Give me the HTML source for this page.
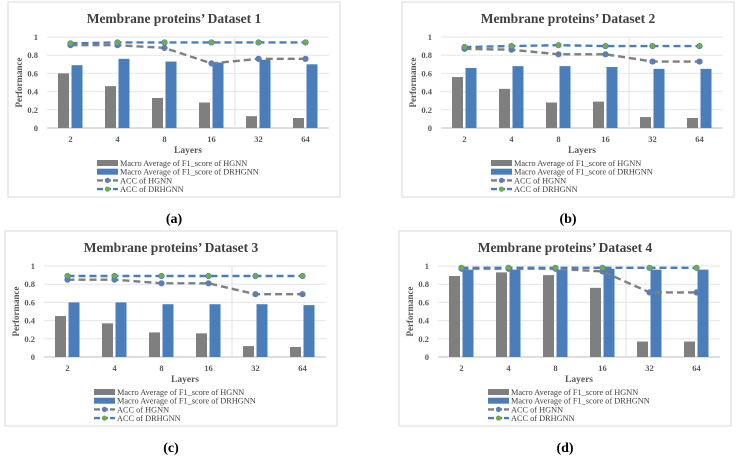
<!DOCTYPE html>
<html><head><meta charset="utf-8"><style>
body{margin:0;background:#fff;width:741px;height:460px;overflow:hidden}
svg{display:block;font-family:"Liberation Serif",serif}
</style></head><body>
<svg id="s" width="741" height="460"></svg>
<script>
const categories=["2","4","8","16","32","64"];
const yTicks=["0","0.2","0.4","0.6","0.8","1"];
const titles=["Membrane proteins’ Dataset 1","Membrane proteins’ Dataset 2","Membrane proteins’ Dataset 3","Membrane proteins’ Dataset 4"];
const captions=["(a)","(b)","(c)","(d)"];
const f1HGNN_a=[0.60,0.46,0.33,0.28,0.13,0.11];
const f1DR_a=[0.69,0.76,0.73,0.72,0.75,0.70];
const accHGNN_a=[0.91,0.91,0.88,0.71,0.76,0.76];
const accDR_a=[0.93,0.94,0.94,0.94,0.94,0.94];
const f1HGNN_b=[0.56,0.43,0.28,0.29,0.12,0.11];
const f1DR_b=[0.66,0.68,0.68,0.67,0.65,0.65];
const accHGNN_b=[0.87,0.86,0.81,0.81,0.73,0.73];
const accDR_b=[0.89,0.90,0.91,0.90,0.90,0.90];
const f1HGNN_c=[0.45,0.37,0.27,0.26,0.12,0.11];
const f1DR_c=[0.60,0.60,0.58,0.58,0.58,0.57];
const accHGNN_c=[0.85,0.85,0.81,0.81,0.69,0.69];
const accDR_c=[0.89,0.89,0.89,0.89,0.89,0.89];
const f1HGNN_d=[0.89,0.93,0.90,0.76,0.17,0.17];
const f1DR_d=[0.96,0.96,0.96,0.97,0.96,0.96];
const accHGNN_d=[0.97,0.97,0.97,0.94,0.71,0.71];
const accDR_d=[0.98,0.98,0.98,0.98,0.98,0.98];
const panels=[[8,2,f1HGNN_a,f1DR_a,accHGNN_a,accDR_a],[402,2,f1HGNN_b,f1DR_b,accHGNN_b,accDR_b],[5,231,f1HGNN_c,f1DR_c,accHGNN_c,accDR_c],[399,231,f1HGNN_d,f1DR_d,accHGNN_d,accDR_d]];
const S=document.getElementById('s');const NS='http://www.w3.org/2000/svg';
function mk(t,a,p,txt){const e=document.createElementNS(NS,t);for(const k in a)e.setAttribute(k,a[k]);if(txt!==undefined)e.textContent=txt;(p||S).appendChild(e);return e;}
panels.forEach((P,pi)=>{
 const [L,T,gH,gD,aH,aD]=P;
 const g=mk('g',{});
 
 
 const x0=L+39,x1=L+321,yT=T+35,yB=T+126,cw=(x1-x0)/6;
 const y=v=>yB-(yB-yT)*v;const xc=i=>x0+cw*(i+0.5);
 const box=mk('rect',{x:L,y:T,width:332,height:195,fill:'#fff',stroke:'#d9d9d9'},g);
 
 const tt=mk('text',{x:L+166,y:T+21,'text-anchor':'middle','font-size':'13.5','font-weight':'bold',fill:'#404040'},g,titles[pi]);
 
 yTicks.forEach((t,i)=>{const v=parseFloat(t);
  mk('line',{x1:x0,x2:x1,y1:y(v),y2:y(v),stroke:i?'#e6e6e6':'#bfbfbf'},g);
  const tl=mk('text',{x:x0-9,y:y(v)+3,'text-anchor':'end','font-size':'8.5','font-weight':'bold',fill:'#595959'},g,t);
  });
 mk('line',{x1:x0+cw*4,x2:x0+cw*4,y1:yT,y2:yB,stroke:'#e0e0e0'},g);
 const yl=mk('text',{transform:`translate(${L+14},${(yT+yB)/2}) rotate(-90)`,'text-anchor':'middle','font-size':'9','font-weight':'bold',fill:'#595959'},g,'Performance');
 
 categories.forEach((c,i)=>{
  const b1=mk('rect',{x:xc(i)-12.5,y:y(gH[i]),width:11,height:yB-y(gH[i]),fill:'#7f7f7f'},g);
  
  const b2=mk('rect',{x:xc(i)+1,y:y(gD[i]),width:11,height:yB-y(gD[i]),fill:'#4a7ebb'},g);
  
  const xl=mk('text',{x:xc(i),y:yB+14,'text-anchor':'middle','font-size':'8.5','font-weight':'bold',fill:'#595959'},g,c);
  });
 [[aH,'#7f7f7f','#5b7db8','acc-hgnn-line'],[aD,'#4a7ebb','#70ad47','acc-drhgnn-line']].forEach(([arr,col,mc,nm])=>{
  const pl=mk('polyline',{points:arr.map((v,i)=>xc(i)+','+y(v)).join(' '),fill:'none',stroke:col,'stroke-width':2.4,'stroke-dasharray':'7,4'},g);
  
  arr.forEach((v,i)=>{const c=mk('circle',{cx:xc(i),cy:y(v),r:2.8,fill:mc,stroke:mc==='#70ad47'?'#4a7ebb':'#5b7db8','stroke-width':0.6},g);
   });});
 const xt=mk('text',{x:(x0+x1)/2,y:T+151,'text-anchor':'middle','font-size':'9.5','font-weight':'bold',fill:'#595959'},g,'Layers');
 
 const leg=[['Macro Average of F1_score of HGNN','#7f7f7f',0],['Macro Average of F1_score of DRHGNN','#4a7ebb',0],['ACC of HGNN','#7f7f7f','#5b7db8'],['ACC of DRHGNN','#4a7ebb','#70ad47']];
 leg.forEach((l,i)=>{const ly=T+161+i*8.7;const lg=mk('g',{},g);
  
  if(!l[2])mk('rect',{x:L+89,y:ly-3,width:21,height:6,fill:l[1]},lg);
  else{mk('line',{x1:L+89,x2:L+110,y1:ly,y2:ly,stroke:l[1],'stroke-width':2.4,'stroke-dasharray':'6,2'},lg);mk('circle',{cx:L+99.5,cy:ly,r:2.6,fill:l[2]},lg);}
  mk('text',{x:L+112,y:ly+3,'font-size':'8.3',fill:'#404040'},lg,l[0]);});
 const cap=mk('text',{x:L+166,y:T+221,'text-anchor':'middle','font-size':'14','font-weight':'bold',fill:'#000'},g,captions[pi]);
 
});
</script>
</body></html>
